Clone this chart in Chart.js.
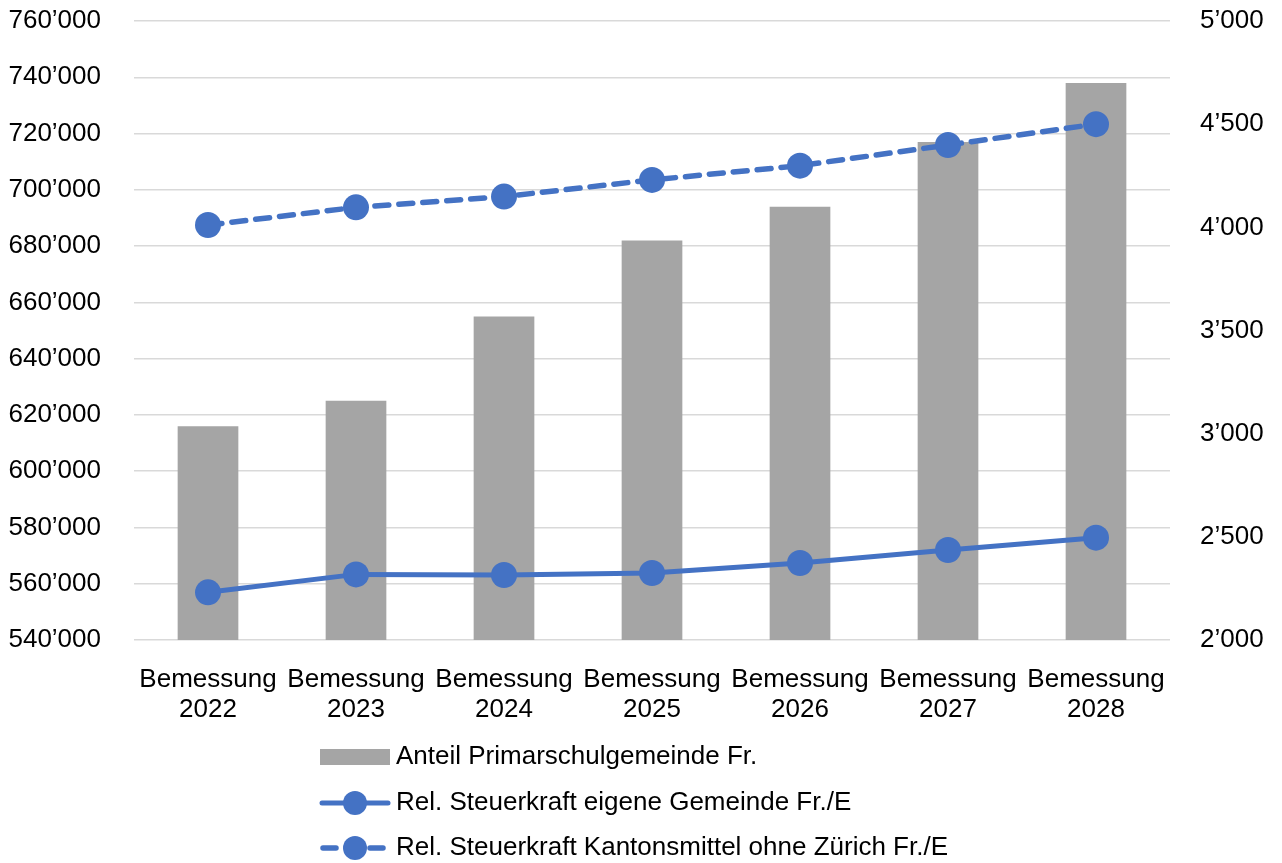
<!DOCTYPE html>
<html>
<head>
<meta charset="utf-8">
<script src="https://cdn.jsdelivr.net/npm/chart.js@4/dist/chart.umd.min.js"></script>
<style>
  html, body { margin: 0; padding: 0; background: #fff; }
  #wrap { width: 1282px; height: 863px; }
</style>
</head>
<body>
<div id="wrap"><canvas id="steuerChart"></canvas></div>
<script>
const categories = [
  ['Bemessung', '2022'], ['Bemessung', '2023'], ['Bemessung', '2024'], ['Bemessung', '2025'],
  ['Bemessung', '2026'], ['Bemessung', '2027'], ['Bemessung', '2028']
];
const anteilPrimarschule = [616000, 625000, 655000, 682000, 694000, 717000, 738000];
const steuerkraftGemeinde = [2231, 2318, 2315, 2325, 2373, 2436, 2496];
const steuerkraftKanton = [4011, 4097, 4149, 4230, 4299, 4399, 4500];

const blue = '#4472C4';
const grey = '#A5A5A5';
const fontFamily = '"Liberation Sans", Arial, sans-serif';

// Zahlen mit ’ als Tausendertrennzeichen
function fmt(v) {
  return String(Math.round(v)).replace(/\B(?=(\d{3})+(?!\d))/g, '\u2019');
}

// Legende untereinander, wie im Original
const stackedLegend = {
  id: 'stackedLegend',
  afterDraw(chart) {
    const ctx = chart.ctx;
    const x0 = 320, symW = 70, textX = 396;
    const rows = [757, 803, 848];
    ctx.save();
    chart.data.datasets.forEach((ds, i) => {
      const y = rows[i];
      if (ds.type === 'bar') {
        ctx.fillStyle = ds.backgroundColor;
        ctx.fillRect(x0, y - 8, symW, 16);
      } else {
        ctx.strokeStyle = ds.borderColor;
        ctx.lineWidth = ds.borderWidth;
        ctx.lineCap = 'round';
        ctx.beginPath();
        if (ds.borderDash) {
          ctx.moveTo(x0 + 3, y); ctx.lineTo(x0 + 16, y);
          ctx.moveTo(x0 + 50, y); ctx.lineTo(x0 + 63, y);
        } else {
          ctx.moveTo(x0 + 2, y); ctx.lineTo(x0 + symW - 2, y);
        }
        ctx.stroke();
        ctx.fillStyle = ds.pointBackgroundColor;
        ctx.beginPath();
        ctx.arc(x0 + 35, y, 12, 0, Math.PI * 2);
        ctx.fill();
      }
      ctx.fillStyle = '#000';
      ctx.font = '26px ' + fontFamily;
      ctx.textBaseline = 'middle';
      ctx.textAlign = 'left';
      ctx.fillText(ds.label, textX, y);
    });
    ctx.restore();
  }
};

const ctx = document.getElementById('steuerChart').getContext('2d');
const steuerChart = new Chart(ctx, {
  data: {
    labels: categories,
    datasets: [
      {
        type: 'bar',
        label: 'Anteil Primarschulgemeinde Fr.',
        data: anteilPrimarschule,
        backgroundColor: grey,
        yAxisID: 'y',
        barPercentage: 0.41,
        categoryPercentage: 1,
        order: 2
      },
      {
        type: 'line',
        label: 'Rel. Steuerkraft eigene Gemeinde Fr./E',
        data: steuerkraftGemeinde,
        borderColor: blue,
        borderWidth: 5,
        pointRadius: 13,
        pointBorderWidth: 0,
        pointBackgroundColor: blue,
        pointHoverRadius: 13,
        yAxisID: 'y1',
        order: 0
      },
      {
        type: 'line',
        label: 'Rel. Steuerkraft Kantonsmittel ohne Zürich Fr./E',
        data: steuerkraftKanton,
        borderColor: blue,
        borderWidth: 5.5,
        borderDash: [14, 10],
        borderCapStyle: 'round',
        pointRadius: 13,
        pointBorderWidth: 0,
        pointBackgroundColor: blue,
        pointHoverRadius: 13,
        yAxisID: 'y1',
        order: 1
      }
    ]
  },
  options: {
    responsive: true,
    maintainAspectRatio: false,
    animation: false,
    layout: { padding: { top: 21, bottom: 143, left: 0, right: 0 } },
    plugins: {
      legend: { display: false },
      tooltip: { enabled: false }
    },
    scales: {
      x: {
        grid: { display: false },
        border: { display: false },
        ticks: {
          color: '#000',
          font: { family: fontFamily, size: 26, lineHeight: 30 / 26 },
          padding: 17,
          maxRotation: 0,
          autoSkip: false
        },
        afterFit: s => { s.height = 80; }
      },
      y: {
        position: 'left',
        min: 540000,
        max: 760000,
        border: { display: false },
        // tickLength statt padding, damit oben kein Extra-Abstand entsteht
        grid: { color: '#D9D9D9', lineWidth: 1.5, drawTicks: true, tickLength: 33, tickColor: 'rgba(0,0,0,0)' },
        ticks: {
          stepSize: 20000,
          color: '#000',
          font: { family: fontFamily, size: 26 },
          padding: 0,
          callback: v => fmt(v)
        },
        afterFit: s => { s.width = 134; }
      },
      y1: {
        position: 'right',
        min: 2000,
        max: 5000,
        border: { display: false },
        grid: { color: 'rgba(0,0,0,0)', drawTicks: true, tickLength: 30, tickColor: 'rgba(0,0,0,0)' },
        ticks: {
          stepSize: 500,
          color: '#000',
          font: { family: fontFamily, size: 26 },
          padding: 0,
          callback: v => fmt(v)
        },
        afterFit: s => { s.width = 112; }
      }
    }
  },
  plugins: [stackedLegend]
});
</script>
</body>
</html>
